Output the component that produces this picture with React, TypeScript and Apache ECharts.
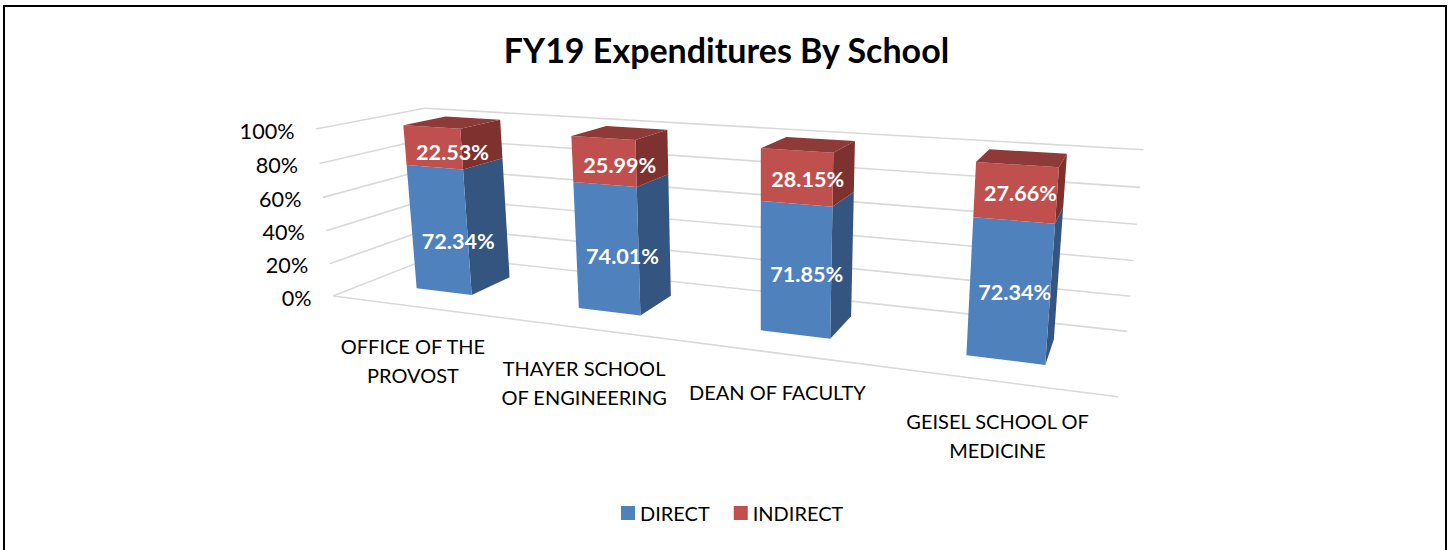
import React, { useEffect, useRef } from "react";
import * as echarts from "echarts";

const categories = [
  "OFFICE OF THE\nPROVOST",
  "THAYER SCHOOL\nOF ENGINEERING",
  "DEAN OF FACULTY",
  "GEISEL SCHOOL OF\nMEDICINE",
];
const direct = [72.34, 74.01, 71.85, 72.34];
const indirect = [22.53, 25.99, 28.15, 27.66];
const yTicks = [0, 20, 40, 60, 80, 100];

// Perspective camera: image of the plot box and vanishing points
const P0 = [333, 296];
const EX = [1118, 395];
const EY = [316, 129];
const EZ = [436, 255.6];
const VX = [-2400, -55];
const VY = [760, 4491];
const VZ = [1180, -36];
const scaleOf = (e: number[], v: number[]) => (e[0] - P0[0]) / (v[0] - e[0]);
const A = scaleOf(EX, VX);
const B = (EY[1] - P0[1]) / (VY[1] - EY[1]);
const C = scaleOf(EZ, VZ);

const project = (t: number, h: number, z: number) => {
  const w = 1 + t * A + h * B + z * C;
  return [
    (P0[0] + t * A * VX[0] + h * B * VY[0] + z * C * VZ[0]) / w,
    (P0[1] + t * A * VX[1] + h * B * VY[1] + z * C * VZ[1]) / w,
  ];
};

const FONT = "Lato, Carlito, sans-serif";
const BAR_RATIO = 0.352;
const Z_FRONT = 0.31;
const Z_BACK = 0.72;

const unit = (params: any, api: any, cat: number, val: number) => {
  const cs = params.coordSys;
  const p = api.coord([cat, val]);
  return [(p[0] - cs.x) / cs.width, 1 - (p[1] - cs.y) / cs.height];
};

const boxItem =
  (front: string, side: string, top: string, showTop: boolean, labelDy: number, labelStep: number) =>
  (params: any, api: any) => {
    const cat = api.value(0);
    const start = api.value(1);
    const end = api.value(2);
    const raw = api.value(3);
    const cs = params.coordSys;
    const [tc, h0] = unit(params, api, cat, start);
    const [, h1] = unit(params, api, cat, end);
    const half = ((api.size([1, 0])[0] / cs.width) * BAR_RATIO) / 2;
    const t0 = tc - half;
    const t1 = tc + half;
    const poly = (pts: number[][], fill: string) => ({
      type: "polygon",
      shape: { points: pts },
      style: { fill },
      z2: 1,
    });
    const children: any[] = [
      poly(
        [project(t1, h0, Z_FRONT), project(t1, h0, Z_BACK), project(t1, h1, Z_BACK), project(t1, h1, Z_FRONT)],
        side
      ),
      poly(
        [project(t0, h0, Z_FRONT), project(t1, h0, Z_FRONT), project(t1, h1, Z_FRONT), project(t0, h1, Z_FRONT)],
        front
      ),
    ];
    if (showTop) {
      children.push(
        poly(
          [project(t0, h1, Z_FRONT), project(t1, h1, Z_FRONT), project(t1, h1, Z_BACK), project(t0, h1, Z_BACK)],
          top
        )
      );
    }
    const c = project(tc, (h0 + h1) / 2, 0.5);
    children.push({
      type: "text",
      z2: 10,
      style: {
        text: raw.toFixed(2) + "%",
        x: c[0],
        y: c[1] + labelDy - labelStep * cat,
        fill: "#FFFFFF",
        font: `bold 21.6px ${FONT}`,
        align: "center",
        verticalAlign: "middle",
      },
    });
    return { type: "group", children };
  };

const stacked = (cat: number) => direct[cat] + indirect[cat];
const directData = direct.map((v, i) => [i, 0, (v / stacked(i)) * 100, v]);
const indirectData = indirect.map((v, i) => [i, (direct[i] / stacked(i)) * 100, 100, v]);

const tickItem = (params: any, api: any) => {
  const val = api.value(0);
  const [, h] = unit(params, api, 0, val);
  const line = (a: number[], b: number[]) => ({
    type: "line",
    shape: { x1: a[0], y1: a[1], x2: b[0], y2: b[1] },
    style: { stroke: "#D9D9D9", lineWidth: 1.6 },
  });
  const left = project(0, h, 0);
  const children: any[] = [
    line(left, project(0, h, 1)),
    line(project(0, h, 1), project(1, h, 1)),
    {
      type: "text",
      style: {
        text: val + "%",
        x: left[0] - 21.5,
        y: left[1] + 1.5,
        fill: "#000000",
        font: `21.6px ${FONT}`,
        align: "right",
        verticalAlign: "middle",
      },
    },
  ];
  if (val === 0) children.push(line(left, project(1, 0, 0)));
  return { type: "group", children };
};

const catItem = (params: any, api: any) => {
  const cat = api.value(0);
  const [t] = unit(params, api, cat, 0);
  const p = project(t, 0, 0);
  return {
    type: "text",
    style: {
      text: categories[cat],
      x: p[0] + 1.5,
      y: p[1] + 25,
      fill: "#000000",
      font: `20px ${FONT}`,
      lineHeight: 29,
      align: "center",
      verticalAlign: "top",
    },
  };
};

export default function App() {
  const ref = useRef<HTMLDivElement>(null);
  useEffect(() => {
    const chart = echarts.init(ref.current!, undefined, { renderer: "svg" });
    chart.setOption({
      animation: false,
      backgroundColor: "#FFFFFF",
      title: {
        text: "FY19 Expenditures By School",
        left: 721.5,
        top: 27,
        textAlign: "center",
        textStyle: { fontFamily: FONT, fontWeight: "bold", fontSize: 34, color: "#000000" },
      },
      legend: {
        left: 616,
        top: 498,
        icon: "rect",
        itemWidth: 14,
        itemHeight: 14,
        itemGap: 24,
        data: ["DIRECT", "INDIRECT"],
        textStyle: { fontFamily: FONT, fontSize: 20, color: "#000000" },
      },
      grid: { left: 0, right: 0, top: 0, bottom: 0 },
      xAxis: { type: "category", data: categories, show: false },
      yAxis: { type: "value", min: 0, max: 100, interval: 20, show: false },
      graphic: [
        {
          type: "rect",
          silent: true,
          shape: { x: 4, y: 6, width: 1442, height: 620 },
          style: { fill: "none", stroke: "#000000", lineWidth: 2 },
        },
      ],
      series: [
        { type: "custom", name: "grid", silent: true, z: 1, data: yTicks.map((v) => [v]), encode: { y: 0 }, renderItem: tickItem },
        { type: "custom", name: "cats", silent: true, z: 1, data: categories.map((_, i) => [i]), encode: { x: 0 }, renderItem: catItem },
        {
          type: "custom",
          name: "DIRECT",
          silent: true,
          z: 2,
          itemStyle: { color: "#4F81BD" },
          data: directData,
          encode: { x: 0, y: 2 },
          renderItem: boxItem("#4F81BD", "#335580", "#3E6797", false, 17, 2),
        },
        {
          type: "custom",
          name: "INDIRECT",
          silent: true,
          z: 3,
          itemStyle: { color: "#C0504D" },
          data: indirectData,
          encode: { x: 0, y: 2 },
          renderItem: boxItem("#C0504D", "#7D3230", "#8D3A38", true, 10, 1),
        },
      ],
    });
    return () => chart.dispose();
  }, []);
  return (
    <div
      ref={ref}
      style={{ position: "absolute", left: 0, top: 0, width: 1450, height: 550 }}
    />
  );
}
